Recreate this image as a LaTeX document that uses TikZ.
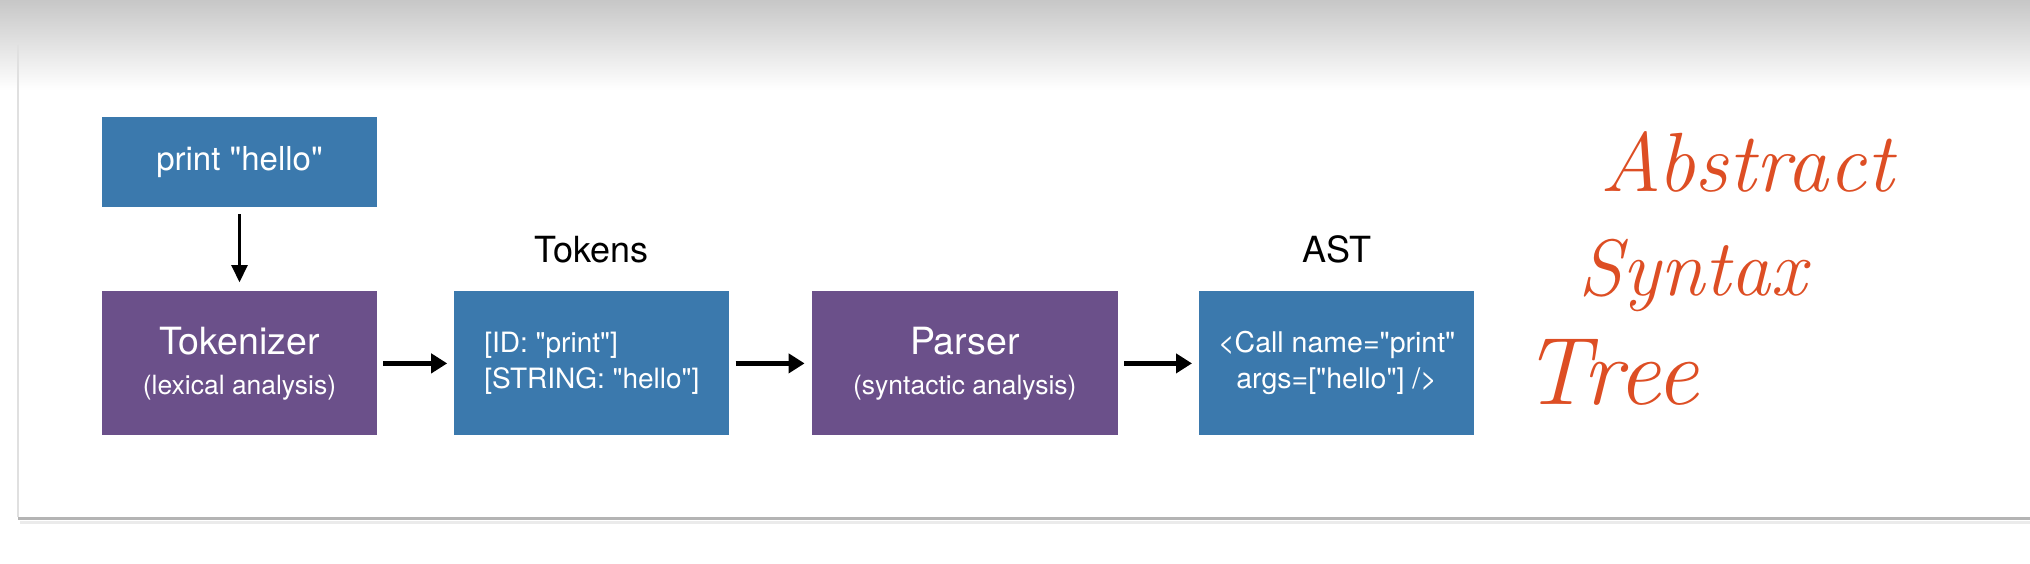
\documentclass[tikz,border=0pt]{standalone}
\usepackage{fontspec}
\setsansfont[Ligatures=TeXOff]{TeX Gyre Heros}
\usepackage{xcolor}
\usepackage{tikz}
\usetikzlibrary{arrows.meta, positioning}
\definecolor{tokblue}{RGB}{59,121,173}
\definecolor{stagepurple}{RGB}{107,80,138}
\definecolor{inkred}{RGB}{221,78,36}
\definecolor{slideedge}{RGB}{180,180,180}

\begin{document}
\begin{tikzpicture}[
        x=1pt, y=-1pt,
        % Styles
        stage/.style={rectangle, fill=stagepurple, text=white, inner sep=0pt,
                     minimum width=275pt, minimum height=144pt, align=center,
                     font=\sffamily\fontsize{26.5}{40}\selectfont},
        data/.style={rectangle, fill=tokblue, text=white, inner sep=0pt,
                    minimum width=275pt, minimum height=144pt, align=center,
                    font=\sffamily\fontsize{28}{36}\selectfont},
        caption/.style={inner sep=0pt, font=\sffamily\fontsize{36}{40}\selectfont},
        hand/.style={anchor=base west, inner sep=0pt, text=inkred,
                    font=\rmfamily\itshape\fontsize{84}{90}\selectfont},
        arrow/.style={-{Triangle[length=16pt, width=19pt]}, line width=5pt,
                     shorten <=6pt, shorten >=7pt},
        feed/.style={-{Triangle[length=17pt, width=16pt]}, line width=2.5pt,
                    shorten <=7pt, shorten >=9pt},
    ]
    \useasboundingbox (0,0) rectangle (2030,564);

    % Slide background
    \fill[top color=black!22, bottom color=white] (0,0) rectangle (2030,90);
    \draw[black!12, line width=2pt] (18,45) -- (18,517);
    \draw[black!8, line width=3pt] (20,522) -- (2030,522);
    \draw[slideedge, line width=3pt] (18,518) -- (2030,518);

    % Pipeline
    \node[data, minimum height=90pt, font=\sffamily\fontsize{33}{40}\selectfont] (source) at (239.5,162) {print "hello"};
    \node[stage, below=84pt of source] (tokenizer) {{\fontsize{37.5}{40}\selectfont Tokenizer}\\(lexical analysis)};
    \node[data, right=77pt of tokenizer, align=left] (tokens) {[ID: "print"]\\{}[STRING: "hello"]};
    \node[stage, minimum width=306pt, right=82pt of tokens] (parser) {{\fontsize{37.5}{40}\selectfont Parser}\\(syntactic analysis)};
    \node[data, right=81pt of parser, font=\sffamily\fontsize{28.5}{36}\selectfont] (ast) {<Call name="print"\\args=["hello"] />};

    % Arrows
    \draw[feed] (source) -- (tokenizer);
    \draw[arrow] (tokenizer) -- (tokens);
    \draw[arrow] (tokens) -- (parser);
    \draw[arrow] (parser) -- (ast);

    % Labels
    \node[caption, above=28pt of tokens] (tokenslabel) {Tokens};
    \node[caption, above=28pt of ast] (astlabel) {AST};

    % Handwritten note
    \node[hand] (abstract) at (1600,192) {Abstract};
    \node[hand, font=\rmfamily\itshape\fontsize{80}{90}\selectfont] (syntax) at (1578,295) {Syntax};
    \node[hand, font=\rmfamily\itshape\fontsize{96}{100}\selectfont] (tree) at (1522,404) {Tree};

    \end{tikzpicture}
\end{document}
